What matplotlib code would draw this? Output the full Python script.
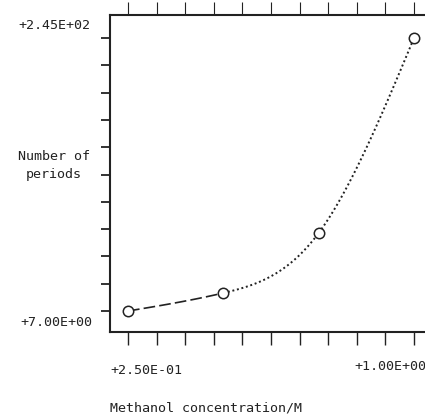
import numpy as np
import matplotlib
matplotlib.use("Agg")
import matplotlib.pyplot as plt

# Data
conc = [0.25, 0.50, 0.75, 1.00]          # methanol concentration / M
periods = [7.0, 22.7, 75.0, 245.0]       # number of periods
x_tick_values = [0.25 + 0.075 * k for k in range(11)]
y_tick_values = [7.0 + 23.8 * k for k in range(11)]
x_label_texts = ["+2.50E-01", "+1.00E+00"]
y_label_texts = ["+7.00E+00", "+2.45E+02"]

INK = "#222222"
FONT = "DejaVu Sans Mono"
FS = 9.6

fig = plt.figure(figsize=(4.25, 4.18), dpi=100)
ax = fig.add_axes([110 / 425, (418 - 332) / 418, 315 / 425, (332 - 15) / 418])

# smooth curve through the points (natural cubic spline, drawing only)
xs = np.array(conc)
ys = np.array(periods)
n = len(xs)
h = np.diff(xs)
A = np.zeros((n, n))
b = np.zeros(n)
A[0, 0] = A[-1, -1] = 1.0
for i in range(1, n - 1):
    A[i, i - 1] = h[i - 1]
    A[i, i] = 2 * (h[i - 1] + h[i])
    A[i, i + 1] = h[i]
    b[i] = 6 * ((ys[i + 1] - ys[i]) / h[i] - (ys[i] - ys[i - 1]) / h[i - 1])
M = np.linalg.solve(A, b)


def spline_segment(i, num=80):
    t = np.linspace(xs[i], xs[i + 1], num)
    a = xs[i + 1] - t
    c = t - xs[i]
    hi = h[i]
    yv = (M[i] * a ** 3 / (6 * hi) + M[i + 1] * c ** 3 / (6 * hi)
          + (ys[i] / hi - M[i] * hi / 6) * a + (ys[i + 1] / hi - M[i + 1] * hi / 6) * c)
    return t, yv


t0, y0 = spline_segment(0)
ax.plot(t0, y0, color=INK, lw=1.2, linestyle=(0, (7, 2.5)), zorder=2)
for i in range(1, n - 1):
    ti, yi = spline_segment(i)
    ax.plot(ti, yi, color=INK, lw=1.4, linestyle=(0, (1.0, 1.4)), zorder=2)

ax.plot(conc, periods, linestyle="none", marker="o", ms=7.5, mfc="white",
        mec=INK, mew=1.1, zorder=3)

ax.set_xlim(0.25 - 18 / 381.3, 1.0 + 11 / 381.3)
ax.set_ylim(7 - 21 / 1.147, 245 + 23 / 1.147)

ax.set_xticks(x_tick_values)
ax.set_yticks(y_tick_values)
ax.set_xticklabels([])
ax.set_yticklabels([])
ax.tick_params(axis="x", direction="out", length=9.5, width=1.0, color=INK, top=True)
ax.tick_params(axis="y", direction="out", length=6.5, width=1.3, color=INK)
for tk in ax.xaxis.get_major_ticks():
    tk.tick2line.set_color("#888888")
    tk.tick2line.set_markeredgewidth(0.8)

for side in ["left", "top", "bottom"]:
    ax.spines[side].set_linewidth(1.5)
    ax.spines[side].set_color(INK)
ax.spines["right"].set_visible(False)

txt = dict(fontfamily=FONT, fontsize=FS, color=INK, annotation_clip=False)
# y-axis extreme labels
ax.annotate(y_label_texts[1], xy=(0, y_tick_values[-1]), xycoords=("axes fraction", "data"),
            xytext=(-20, 13), textcoords="offset pixels", ha="right", va="center", **txt)
ax.annotate(y_label_texts[0], xy=(0, y_tick_values[0]), xycoords=("axes fraction", "data"),
            xytext=(-18, -12), textcoords="offset pixels", ha="right", va="center", **txt)
# x-axis extreme labels
ax.annotate(x_label_texts[0], xy=(x_tick_values[0], 0), xycoords=("data", "axes fraction"),
            xytext=(-18, -38), textcoords="offset pixels", ha="left", va="center", **txt)
ax.annotate(x_label_texts[1], xy=(x_tick_values[-1], 0), xycoords=("data", "axes fraction"),
            xytext=(-60, -35), textcoords="offset pixels", ha="left", va="center", **txt)

# axis titles
fig.text(110 / 425, 1 - 408 / 418, "Methanol concentration/M", ha="left", va="center",
         fontfamily=FONT, fontsize=FS, color=INK)
fig.text(54 / 425, 1 - 166 / 418, "Number of\nperiods", ha="center", va="center",
         fontfamily=FONT, fontsize=FS, color=INK, linespacing=1.5)

fig.savefig("out.png", dpi=100, facecolor="white")
